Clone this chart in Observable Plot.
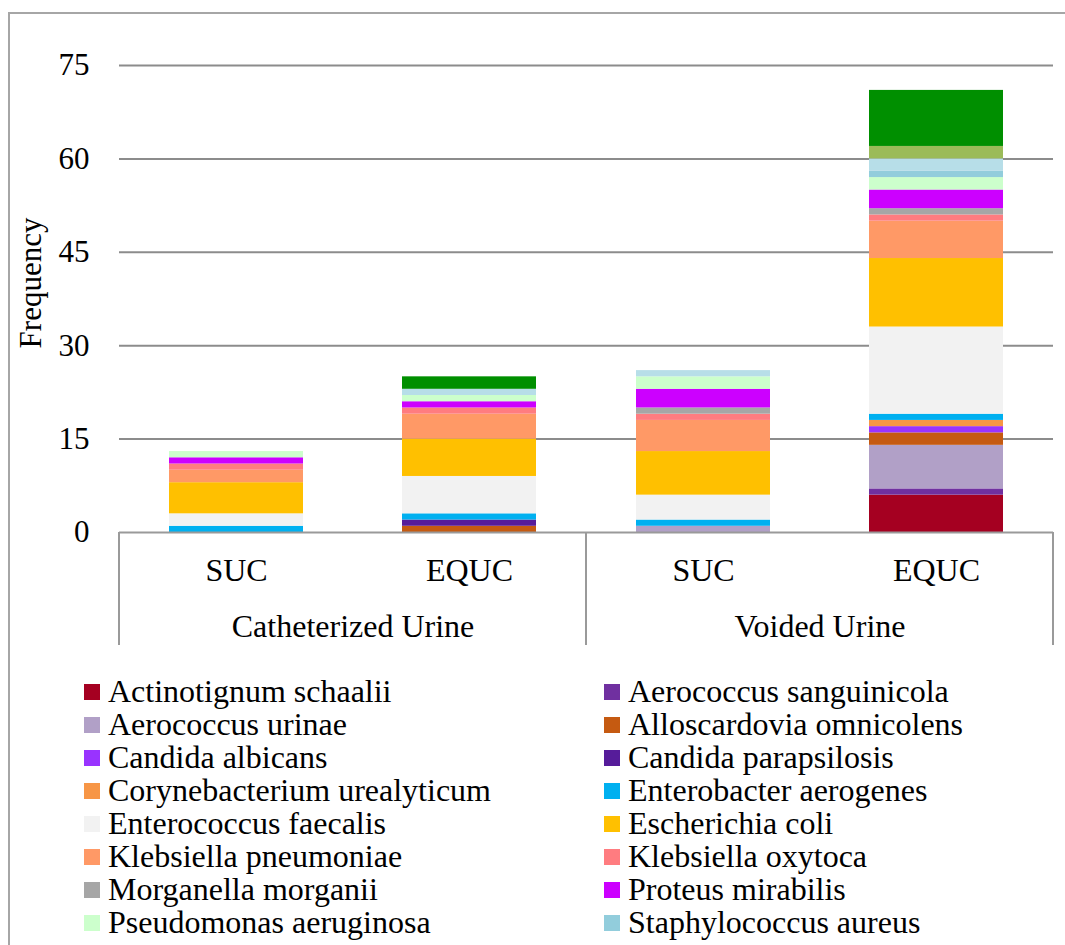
<!DOCTYPE html>
<html>
<head>
<meta charset="utf-8">
<script src="https://cdn.jsdelivr.net/npm/d3@7"></script>
<script src="https://cdn.jsdelivr.net/npm/@observablehq/plot@0.6"></script>
<style>
  html, body { margin: 0; padding: 0; background: #fff; overflow: hidden; width: 1065px; height: 945px; }
  #frame { position: absolute; left: 8px; top: 12px; width: 1120px; height: 1000px; border: 2px solid #a6a6a6; box-sizing: border-box; }
  #chart { position: absolute; left: 0; top: 0; }
  #legend { position: absolute; left: 0; top: 0; font-family: "Liberation Serif", "Times New Roman", serif; font-size: 32px; color: #000; }
  .item { position: absolute; height: 33px; display: flex; align-items: center; white-space: nowrap; }
  .sw { width: 16px; height: 16px; margin-right: 8px; flex: none; }
</style>
</head>
<body>
<div id="frame"></div>
<div id="chart"></div>
<div id="legend"></div>
<script>
// ---- data ----
const groups = ["Catheterized Urine", "Voided Urine"];
const cultureTypes = ["SUC", "EQUC"];
const yTicks = [0, 15, 30, 45, 60, 75];

const species = [
  "Actinotignum schaalii", "Aerococcus sanguinicola",
  "Aerococcus urinae", "Alloscardovia omnicolens",
  "Candida albicans", "Candida parapsilosis",
  "Corynebacterium urealyticum", "Enterobacter aerogenes",
  "Enterococcus faecalis", "Escherichia coli",
  "Klebsiella pneumoniae", "Klebsiella oxytoca",
  "Morganella morganii", "Proteus mirabilis",
  "Pseudomonas aeruginosa", "Staphylococcus aureus",
  "Staphylococcus haemolyticus", "Streptococcus agalactiae",
  "Streptococcus anginosus"
];
// legend entries visible in the reference (the rest are cut off below the frame)
const legendSpecies = species.slice(0, 16);
const colors = [
  "#A50021", "#7030A0",
  "#B1A0C7", "#C55A11",
  "#9933FF", "#561C9A",
  "#F79646", "#00B0F0",
  "#F2F2F2", "#FFC000",
  "#FF9966", "#FF7C80",
  "#A6A6A6", "#CC00FF",
  "#CCFFCC", "#92CDDC",
  "#B7DEE8", "#9BBB59",
  "#008F00"
];

const catheterizedSUC  = [0,0,0,0,0,0,0,1,2,5,2,1,0,1,1,0,0,0,0];
const catheterizedEQUC = [0,0,0,1,0,1,0,1,6,6,4,1,0,1,1,0,1,0,2];
const voidedSUC        = [0,0,1,0,0,0,0,1,4,7,5,1,1,3,2,0,1,0,0];
const voidedEQUC       = [6,1,7,2,1,0,1,1,14,11,6,1,1,3,2,1,2,2,9];

const bars = [
  [groups[0], cultureTypes[0], catheterizedSUC],
  [groups[0], cultureTypes[1], catheterizedEQUC],
  [groups[1], cultureTypes[0], voidedSUC],
  [groups[1], cultureTypes[1], voidedEQUC]
];
const data = [];
bars.forEach(([group, type, values]) => {
  species.forEach((s, i) => { if (values[i] > 0) data.push({group, type, species: s, value: values[i]}); });
});
const cells = groups.flatMap(g => cultureTypes.map(t => ({group: g, type: t})));

const font = '"Liberation Serif", "Times New Roman", serif';

const plot = Plot.plot({
  width: 1065,
  height: 660,
  marginLeft: 118,
  marginRight: 12,
  marginTop: 65,
  marginBottom: 128,
  style: {fontFamily: font, fontSize: "32px", color: "#000", background: "transparent", overflow: "visible"},
  fx: {domain: groups, padding: 0, axis: null, label: null},
  x: {domain: cultureTypes, paddingInner: 0.427, paddingOuter: 0.2135, axis: null, label: null},
  y: {domain: [0, 75], label: null},
  color: {domain: species, range: colors},
  marks: [
    Plot.ruleY(yTicks.slice(1), {stroke: "#8c8c8c", strokeWidth: 2}),
    Plot.barY(data, Plot.stackY({fx: "group", x: "type", y: "value", fill: "species", z: "species", order: species})),
    Plot.ruleY([0], {stroke: "#9a9a9a", strokeWidth: 2}),
    Plot.axisY({ticks: yTicks, tickSize: 0, tickPadding: 30, label: null, fontSize: 31, tickFormat: d => String(d)}),
    Plot.text(cells, {fx: "group", x: "type", text: "type", frameAnchor: "bottom", lineAnchor: "middle", dy: 38, fontSize: 32}),
    Plot.text(groups, {fx: d => d, text: d => d, frameAnchor: "bottom", lineAnchor: "middle", dy: 94, fontSize: 32}),
    Plot.text(["Frequency"], {fx: () => groups[0], text: d => d, frameAnchor: "left", textAnchor: "middle", lineAnchor: "middle", rotate: -90, dx: -88, dy: -16, fontSize: 31})
  ]
});

// category dividers drawn from the plot's own scales
const fxs = plot.scale("fx");
const ys = plot.scale("y");
const y0 = ys.apply(0);
const svg = d3.select(plot);
const edges = [fxs.apply(groups[0]), fxs.apply(groups[1]), fxs.apply(groups[1]) + fxs.bandwidth];
svg.append("g").selectAll("line").data(edges).join("line")
  .attr("x1", d => d).attr("x2", d => d)
  .attr("y1", y0).attr("y2", y0 + 113)
  .attr("stroke", "#9a9a9a").attr("stroke-width", 2);

document.getElementById("chart").appendChild(plot);

// legend
const legend = d3.select("#legend");
legendSpecies.forEach((s, i) => {
  const col = i % 2, row = Math.floor(i / 2);
  const item = legend.append("div").attr("class", "item")
    .style("left", (col ? 604 : 84) + "px")
    .style("top", (675 + row * 33) + "px");
  item.append("div").attr("class", "sw").style("background", colors[species.indexOf(s)]);
  item.append("span").text(s);
});
</script>
</body>
</html>
